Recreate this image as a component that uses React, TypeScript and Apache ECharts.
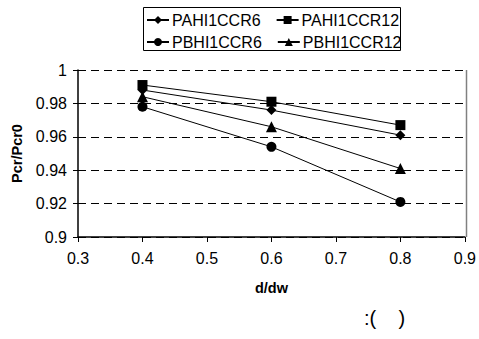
import React, { useEffect, useRef } from "react";
import * as echarts from "echarts";

const xValues = [0.4, 0.6, 0.8];
const seriesNames = ["PAHI1CCR6", "PAHI1CCR12", "PBHI1CCR6", "PBHI1CCR12"];
const pahi1ccr6 = [0.988, 0.976, 0.961];
const pahi1ccr12 = [0.991, 0.981, 0.967];
const pbhi1ccr6 = [0.978, 0.954, 0.921];
const pbhi1ccr12 = [0.984, 0.966, 0.941];
const symbols = ["diamond", "rect", "circle", "triangle"];
const symbolSizes = [10, 10, 10, 11];

const FONT = "Liberation Sans, Arial, sans-serif";

export default function App() {
  const ref = useRef<HTMLDivElement>(null);
  useEffect(() => {
    if (!ref.current) return;
    const chart = echarts.init(ref.current, undefined, { renderer: "svg" });
    const values = [pahi1ccr6, pahi1ccr12, pbhi1ccr6, pbhi1ccr12];
    const series = seriesNames.map((name, i) => ({
      name,
      type: "line",
      data: xValues.map((x, j) => [x, values[i][j]]),
      symbol: symbols[i],
      symbolSize: symbolSizes[i],
      lineStyle: { color: "#000", width: 1 },
      itemStyle: { color: "#000" },
      z: 3,
    }));
    const legendCommon = {
      orient: "horizontal",
      itemWidth: 22,
      itemHeight: 10,
      itemGap: 15,
      padding: 0,
      textStyle: { fontFamily: FONT, fontSize: 16, color: "#000", padding: [0, 0, 0, -2] },
      selectedMode: false,
    };
    chart.setOption({
      animation: false,
      backgroundColor: "#fff",
      grid: { left: 78, right: 13, top: 70, bottom: 102, show: false },
      legend: [
        { ...legendCommon, data: [seriesNames[0], seriesNames[1]], left: 146, top: 12 },
        { ...legendCommon, data: [seriesNames[2], seriesNames[3]], left: 146, top: 34 },
      ],
      xAxis: {
        type: "value",
        min: 0.3,
        max: 0.9,
        interval: 0.1,
        name: "d/dw",
        nameLocation: "middle",
        nameGap: 43,
        nameTextStyle: { fontFamily: FONT, fontSize: 14.5, fontWeight: "bold", color: "#000" },
        axisLine: { lineStyle: { color: "#000", width: 1.5 } },
        axisTick: { show: true, inside: false, length: 5, lineStyle: { color: "#000" } },
        axisLabel: { fontFamily: FONT, fontSize: 16, color: "#000", margin: 13, formatter: (v: number) => String(Math.round(v * 10) / 10) },
        splitLine: { show: false },
      },
      yAxis: {
        type: "value",
        min: 0.9,
        max: 1,
        interval: 0.02,
        name: "Pcr/Pcr0",
        nameLocation: "middle",
        nameGap: 52,
        nameTextStyle: { fontFamily: FONT, fontSize: 14.5, fontWeight: "bold", color: "#000" },
        axisLine: { show: true, lineStyle: { color: "#000", width: 1.5 } },
        axisTick: { show: true, inside: false, length: 5, lineStyle: { color: "#000" } },
        axisLabel: { fontFamily: FONT, fontSize: 16, color: "#000", margin: 11, formatter: (v: number) => String(Math.round(v * 100) / 100) },
        splitLine: { show: true, lineStyle: { color: "#000", type: [8, 5], width: 1 } },
      },
      graphic: [
        {
          type: "rect",
          shape: { x: 143.5, y: 7.5, width: 257, height: 43 },
          style: { fill: "none", stroke: "#000", lineWidth: 1 },
          z: 10,
        },
        {
          type: "line",
          shape: { x1: 466.5, y1: 70, x2: 466.5, y2: 237 },
          style: { stroke: "#808080", lineWidth: 1.5 },
          z: 1,
        },
        {
          type: "text",
          x: 364,
          y: 318,
          style: { text: ":(    )", font: "20px Liberation Sans, Arial, sans-serif", fill: "#000", verticalAlign: "middle" },
        },
      ],
      series,
    });
    return () => chart.dispose();
  }, []);
  return <div ref={ref} style={{ width: 479, height: 339, position: "absolute", left: 0, top: 0 }} />;
}
